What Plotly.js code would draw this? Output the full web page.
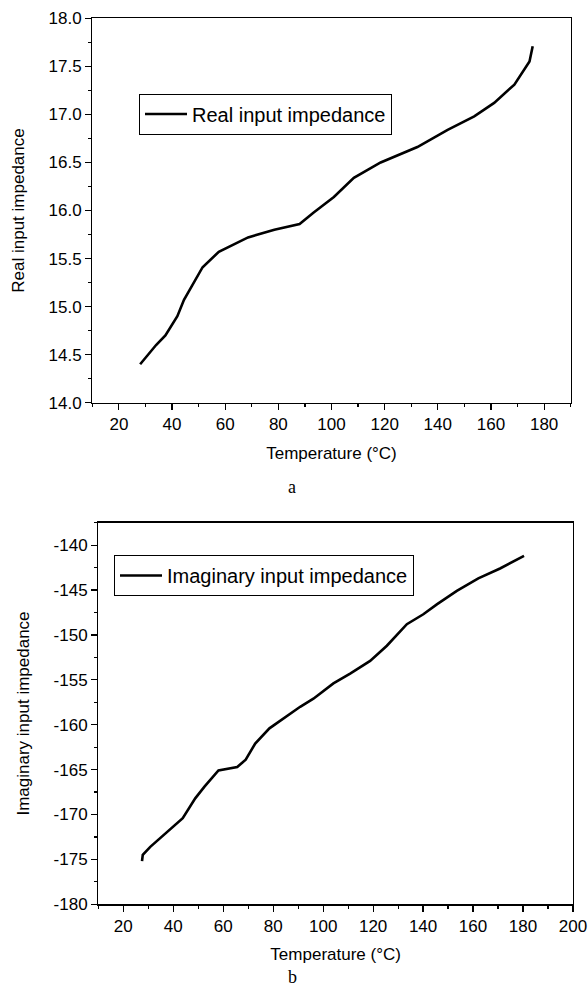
<!DOCTYPE html>
<html>
<head>
<meta charset="utf-8">
<script src="https://cdn.plot.ly/plotly-3.0.1.min.js"></script>
<style>html,body{margin:0;padding:0;background:#fff;}#chart{width:588px;height:990px;}</style>
</head>
<body>
<div id="chart"></div>
<script>
// Panel a: real input impedance vs temperature
const tempA = [28, 34, 37.5, 42, 44.5, 51.5, 57.6, 62.8, 68.6, 78.5, 88, 93.3, 100.9, 108.4, 118.5, 132.3, 143.7, 153.7, 161.2, 168.8, 174.5, 175.7];
const realZ = [14.40, 14.60, 14.70, 14.90, 15.07, 15.41, 15.57, 15.64, 15.72, 15.80, 15.86, 15.98, 16.14, 16.34, 16.50, 16.66, 16.84, 16.98, 17.12, 17.31, 17.55, 17.71];

// Panel b: imaginary input impedance vs temperature
const tempB = [27.5, 27.8, 30.8, 37.5, 43.8, 48.8, 52.5, 58.1, 65.6, 69.0, 72.8, 78.5, 85, 90.8, 96.1, 104.1, 110.8, 118.8, 125.5, 133.5, 140.1, 145.5, 153.5, 162.1, 170.8, 180.4];
const imagZ = [-175.2, -174.5, -173.6, -171.95, -170.4, -168.2, -166.9, -165.1, -164.7, -163.9, -162.1, -160.4, -159.1, -158.0, -157.1, -155.4, -154.3, -152.9, -151.2, -148.8, -147.7, -146.6, -145.1, -143.7, -142.6, -141.2];

const yTickValsB = [-180, -175, -170, -165, -160, -155, -150, -145, -140];
const yTickTextB = ['-180', '-175', '-170', '-165', '-160', '-155', '-150', '-145', '-140'];

const W = 588, H = 990;
const px = v => v / W;
const py = v => 1 - v / H;

const FONT = 'Liberation Sans, Arial, sans-serif';
const tickFont = {family: FONT, size: 17, color: '#000'};
const titleFont = {family: FONT, size: 17, color: '#000'};

function mainAxis(extra) {
  return Object.assign({
    showline: true, mirror: true, linecolor: '#000', linewidth: 1.3,
    showgrid: false, zeroline: false,
    ticks: 'outside', ticklen: 6, tickwidth: 1.2, tickcolor: '#000',
    tickfont: tickFont, automargin: false
  }, extra);
}
function innerAxis(extra) {
  return Object.assign({
    showline: false, showgrid: false, zeroline: false,
    ticks: 'inside', ticklen: 6, tickwidth: 1.2, tickcolor: '#000',
    showticklabels: false, automargin: false, fixedrange: true
  }, extra);
}

const traces = [
  {x: tempA, y: realZ, xaxis: 'x', yaxis: 'y', type: 'scatter', mode: 'lines',
   name: 'Real input impedance', line: {color: '#000', width: 2.6}, legend: 'legend'},
  {x: tempB, y: imagZ, xaxis: 'x2', yaxis: 'y2', type: 'scatter', mode: 'lines',
   name: 'Imaginary input impedance', line: {color: '#000', width: 2.6}, legend: 'legend2'}
];

const domXA = [px(92.3), px(570.7)], domYA = [py(402.7), py(18.3)];
const domXB = [px(98.3), px(573)], domYB = [py(904.3), py(522.7)];

const layout = {
  width: W, height: H,
  margin: {l: 0, r: 0, t: 0, b: 0},
  paper_bgcolor: '#fff', plot_bgcolor: 'rgba(0,0,0,0)',
  font: {family: FONT, color: '#000'},
  xaxis: mainAxis({domain: domXA, anchor: 'y', range: [10, 190], tick0: 0, dtick: 20,
    minor: {dtick: 10, ticks: 'outside', ticklen: 3, tickwidth: 1.2, tickcolor: '#000'},
    title: {text: 'Temperature (°C)', font: titleFont, standoff: 13}}),
  yaxis: mainAxis({domain: domYA, anchor: 'x', range: [14, 18], tick0: 14, dtick: 0.5, tickformat: '.1f',
    minor: {dtick: 0.25, ticks: 'outside', ticklen: 3, tickwidth: 1.2, tickcolor: '#000'},
    title: {text: 'Real input impedance', font: titleFont, standoff: 19}}),
  xaxis3: innerAxis({overlaying: 'x', anchor: 'y', side: 'top', range: [10, 190], tick0: 0, dtick: 20,
    minor: {dtick: 10, ticks: 'inside', ticklen: 3, tickwidth: 1.2, tickcolor: '#000'}}),
  yaxis3: innerAxis({overlaying: 'y', anchor: 'x', side: 'right', range: [14, 18], tick0: 14, dtick: 0.5,
    minor: {dtick: 0.25, ticks: 'inside', ticklen: 3, tickwidth: 1.2, tickcolor: '#000'}}),

  xaxis2: mainAxis({domain: domXB, anchor: 'y2', range: [10, 200], tick0: 0, dtick: 20,
    minor: {dtick: 10, ticks: 'outside', ticklen: 3, tickwidth: 1.2, tickcolor: '#000'},
    title: {text: 'Temperature (°C)', font: titleFont, standoff: 13}}),
  yaxis2: mainAxis({domain: domYB, anchor: 'x2', range: [-180, -137.5],
    tickmode: 'array', tickvals: yTickValsB, ticktext: yTickTextB,
    minor: {dtick: 2.5, tick0: 0, ticks: 'outside', ticklen: 3, tickwidth: 1.2, tickcolor: '#000'},
    title: {text: 'Imaginary input impedance', font: titleFont, standoff: 19}}),
  xaxis4: innerAxis({overlaying: 'x2', anchor: 'y2', side: 'top', range: [10, 200], tick0: 0, dtick: 20,
    minor: {dtick: 10, ticks: 'inside', ticklen: 3, tickwidth: 1.2, tickcolor: '#000'}}),
  yaxis4: innerAxis({overlaying: 'y2', anchor: 'x2', side: 'right', range: [-180, -137.5],
    tickmode: 'array', tickvals: yTickValsB,
    minor: {dtick: 2.5, tick0: 0, ticks: 'inside', ticklen: 3, tickwidth: 1.2, tickcolor: '#000'}}),

  showlegend: true,
  legend: {x: px(139), y: py(114), xanchor: 'left', yanchor: 'middle', itemwidth: 42,
    bgcolor: '#fff', bordercolor: '#000', borderwidth: 1,
    font: {family: FONT, size: 20, color: '#000'}},
  legend2: {x: px(114), y: py(575.5), xanchor: 'left', yanchor: 'middle', itemwidth: 42,
    bgcolor: '#fff', bordercolor: '#000', borderwidth: 1,
    font: {family: FONT, size: 20, color: '#000'}},

  annotations: [
    {text: 'a', x: px(292), y: py(487), xref: 'paper', yref: 'paper', showarrow: false,
     xanchor: 'center', yanchor: 'middle',
     font: {family: 'Liberation Serif, Times New Roman, serif', size: 18, color: '#000'}},
    {text: 'b', x: px(292), y: py(977), xref: 'paper', yref: 'paper', showarrow: false,
     xanchor: 'center', yanchor: 'middle',
     font: {family: 'Liberation Serif, Times New Roman, serif', size: 18, color: '#000'}}
  ]
};

Plotly.newPlot('chart', traces, layout, {displayModeBar: false, staticPlot: true});
</script>
</body>
</html>
